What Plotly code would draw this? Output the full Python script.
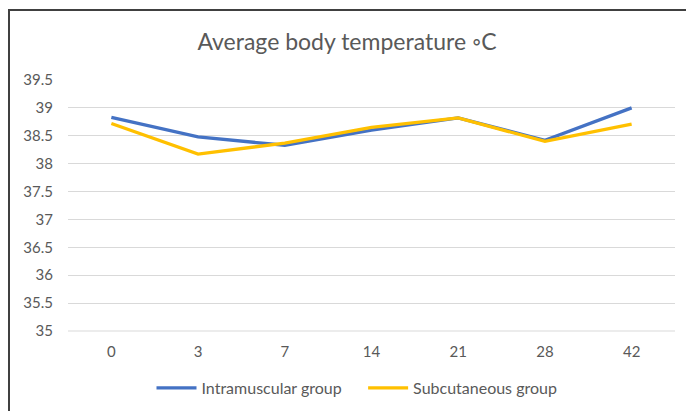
import plotly.graph_objects as go

days = ["0", "3", "7", "14", "21", "28", "42"]
intramuscular = [38.83, 38.48, 38.33, 38.6, 38.82, 38.42, 39.0]
subcutaneous = [38.72, 38.17, 38.37, 38.65, 38.82, 38.4, 38.71]
y_ticks = [35, 35.5, 36, 36.5, 37, 37.5, 38, 38.5, 39, 39.5]

# page body has an 8px margin, so the figure is offset by 8px
OFF = 8
W, H = 694 - OFF, 411 - OFF
ml, mt = 68 - OFF, 80 - OFF
pw, ph = 607, 251
mr = W - ml - pw
mb = H - mt - ph

def px(x):
    return (x - OFF - ml) / pw

def py(y):
    return (mt + ph - (y - OFF)) / ph

FONT = "Lato, 'Open Sans', sans-serif"
GREY = "#595959"

fig = go.Figure()
fig.add_trace(go.Scatter(x=days, y=intramuscular, mode="lines",
                         name="Intramuscular group\u00a0\u00a0\u00a0\u00a0",
                         line=dict(color="#4472C4", width=3.3)))
fig.add_trace(go.Scatter(x=days, y=subcutaneous, mode="lines", name="Subcutaneous group",
                         line=dict(color="#FFC000", width=3.3)))

fig.update_layout(
    width=W, height=H,
    margin=dict(l=ml, r=mr, t=mt, b=mb),
    paper_bgcolor="white", plot_bgcolor="white",
    font=dict(family=FONT, color=GREY, size=15),
    title=dict(text="Average body temperature ◦C", x=(347 - OFF - ml) / pw, xref="paper",
               xanchor="center", y=1 - (42 - OFF) / H, yref="container", yanchor="middle",
               font=dict(size=23, color=GREY, family=FONT)),
    xaxis=dict(type="category", range=[-0.5, 6.5], showgrid=False, showline=False,
               ticks="", tickfont=dict(size=15, color=GREY), ticklabelstandoff=10),
    yaxis=dict(range=[35, 39.5], tickvals=y_ticks, ticktext=[f"{v:g}" for v in y_ticks],
               showgrid=True, gridcolor="#D9D9D9", gridwidth=1, zeroline=False,
               showline=False, ticks="", tickfont=dict(size=15, color=GREY),
               ticklabelstandoff=14),
    legend=dict(orientation="h", x=(357 - OFF - ml) / pw, xanchor="center", xref="paper",
                y=1 - (388 - OFF) / H, yref="container", yanchor="middle",
                font=dict(size=16, color=GREY), itemwidth=40, tracegroupgap=0),
    showlegend=True,
    shapes=[
        dict(type="line", xref="paper", yref="paper", x0=px(8), x1=px(694), y0=py(10), y1=py(10),
             line=dict(color="#404040", width=2)),
        dict(type="line", xref="paper", yref="paper", x0=px(9), x1=px(9), y0=py(10), y1=py(411),
             line=dict(color="#404040", width=2)),
        dict(type="line", xref="paper", yref="paper", x0=px(690), x1=px(690), y0=py(10), y1=py(411),
             line=dict(color="#E0E0E0", width=1)),
        dict(type="line", xref="paper", yref="paper", x0=0, x1=1, y0=0, y1=0,
             line=dict(color="#D9D9D9", width=1), layer="below"),
    ],
)

fig.write_html("out.html")
